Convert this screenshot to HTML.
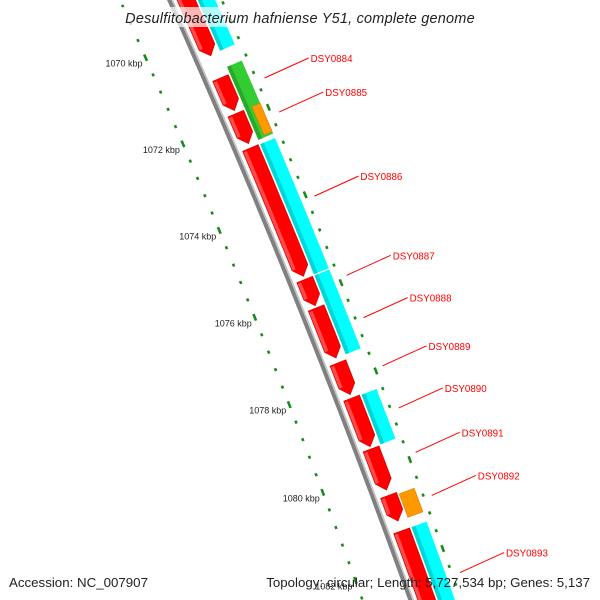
<!DOCTYPE html>
<html><head><meta charset="utf-8"><style>
html,body{margin:0;background:#fff;overflow:hidden;width:600px;height:600px}
svg{display:block;overflow:hidden}
text{font-family:"Liberation Sans",sans-serif}
</style></head><body>
<svg id="map" width="600" height="600" viewBox="0 0 600 600">
<g id="ticks"></g>
<g id="backbone"></g>
<g id="genes"></g>
<g id="labels"></g>
<rect x="114" y="7" width="372" height="20" fill="#fff" fill-opacity="0.7"/>
<text x="300" y="23" text-anchor="middle" font-size="14.5" font-style="italic" fill="#222" letter-spacing="0.2">Desulfitobacterium hafniense Y51, complete genome</text>
<text x="9" y="587" font-size="13.3" fill="#222">Accession: NC_007907</text>
<text x="590" y="587" text-anchor="end" font-size="13.3" fill="#222">Topology: circular; Length: 5,727,534 bp; Genes: 5,137</text>
</svg>
<script>
// data (kbp)
const redStarts = [1068.0, 1071.03, 1071.85, 1072.64, 1075.65, 1076.3, 1077.55, 1078.35, 1079.5, 1080.55, 1081.35];
const redEnds   = [1070.52, 1071.78, 1072.54, 1075.58, 1076.25, 1077.44, 1078.27, 1079.45, 1080.43, 1081.13, 1085.0];
const outerStarts = [1068.0, 1070.87, 1072.65, 1075.65, 1078.36, 1081.35];
const outerEnds   = [1070.5, 1072.55, 1075.62, 1077.44, 1079.48, 1085.0];
const outerColors = ["#00ffff", "#33cc33", "#00ffff", "#00ffff", "#00ffff", "#00ffff"];
const overlayStarts = [1071.85, 1080.6];
const overlayEnds   = [1072.5, 1081.13];
const geneNames = ["DSY0884","DSY0885","DSY0886","DSY0887","DSY0888","DSY0889","DSY0890","DSY0891","DSY0892","DSY0893"];
const labelAnchors = [1071.4, 1072.18, 1074.1, 1075.9, 1076.86, 1077.95, 1078.9, 1079.9, 1080.87, 1082.6];
const majorTicks = [1068, 1070, 1072, 1074, 1076, 1078, 1080, 1082, 1084];
const tickLabels = ["1068 kbp","1070 kbp","1072 kbp","1074 kbp","1076 kbp","1078 kbp","1080 kbp","1082 kbp","1084 kbp"];

const CX=-7745, CY=3528, R=8667;
const NS="http://www.w3.org/2000/svg";
function ang(k){return (-23.74+(k-1070)*0.312)*Math.PI/180;}
function pt(k,off){const a=ang(k);return [CX+(R+off)*Math.cos(a), CY+(R+off)*Math.sin(a)];}
function arcPts(k1,k2,off){const n=20,p=[];for(let i=0;i<=n;i++)p.push(pt(k1+(k2-k1)*i/n,off));return p;}
function mk(tag,attrs,parent){const e=document.createElementNS(NS,tag);for(const k in attrs)e.setAttribute(k,attrs[k]);parent.appendChild(e);return e;}
function poly(pts){return pts.map(p=>p[0].toFixed(2)+","+p[1].toFixed(2)).join(" ");}
function band(k1,k2,o1,o2){return arcPts(k1,k2,o2).concat(arcPts(k1,k2,o1).reverse());}

// backbone
const bb=document.getElementById('backbone');
let b1=mk('polyline',{points:poly(arcPts(1067,1086,-2)),fill:'none',stroke:'#808080','stroke-width':4},bb);


let b2=mk('polyline',{points:poly(arcPts(1067,1086,0.8)),fill:'none',stroke:'#c4c4c4','stroke-width':1.6},bb);



// ticks
const tg=document.getElementById('ticks');
const kpx=0.0213;
for(let i=0;i<majorTicks.length;i++){
  const k=majorTicks[i];
  for(const off of [-47,46]){
    const l=mk('polyline',{points:poly(arcPts(k-3.5*kpx,k+3.5*kpx,off)),stroke:'#1a8a1a','stroke-width':2.6,fill:'none'},tg);
    
    
  }
  const p=pt(k,-47);
  const t=mk('text',{x:p[0]-3,y:p[1]+9,'text-anchor':'end','font-size':9,fill:'#222'},tg);
  t.textContent=tickLabels[i];
  
  
  for(let j=1;j<5;j++){
    const km=k+j*0.4;
    for(const off of [-47,46]){
      const d=mk('polyline',{points:poly(arcPts(km-1.5*kpx,km+1.5*kpx,off)),stroke:'#1a8a1a','stroke-width':2.6,fill:'none'},tg);
      
      
    }
  }
}

// genes
const gg=document.getElementById('genes');
const AL=0.2;
for(let i=0;i<redStarts.length;i++){
  const s=redStarts[i], e=redEnds[i], b=Math.max(s,e-AL);
  const outer=arcPts(s,b,22), inner=arcPts(s,b,5).reverse();
  const pts=outer.concat([pt(e,13.5)]).concat(inner);
  const g=mk('polygon',{points:poly(pts),fill:'#ff0000',stroke:'#d00000','stroke-width':0.6},gg);
  
  
  const h=mk('polygon',{points:poly(band(s+0.03,b,5.5,9)),fill:'#ff4a4a'},gg);
  
  
}
for(let i=0;i<outerStarts.length;i++){
  const c=outerColors[i];
  const g=mk('polygon',{points:poly(band(outerStarts[i],outerEnds[i],24,40)),fill:c},gg);
  
  
  const h=mk('polygon',{points:poly(band(outerStarts[i],outerEnds[i],24,28)),fill:c==='#33cc33'?'#2aa82a':'#00d6d6'},gg);
  
  
}
for(let i=0;i<overlayStarts.length;i++){
  const inner=i===0?31:24;
  const g=mk('polygon',{points:poly(band(overlayStarts[i],overlayEnds[i],inner,40)),fill:'#ff9900',stroke:'#e07800','stroke-width':0.6},gg);
  
  
}

// labels
const lg=document.getElementById('labels');
for(let i=0;i<geneNames.length;i++){
  const p=pt(labelAnchors[i],54);
  const q=[p[0]+44,p[1]-20];
  const l=mk('line',{x1:p[0],y1:p[1],x2:q[0],y2:q[1],stroke:'#ff0000','stroke-width':1},lg);
  
  
  const t=mk('text',{x:q[0]+2,y:q[1]+4,'font-size':9.8,fill:'#ff0000'},lg);
  t.textContent=geneNames[i];
  
  
}
</script>
</body></html>
